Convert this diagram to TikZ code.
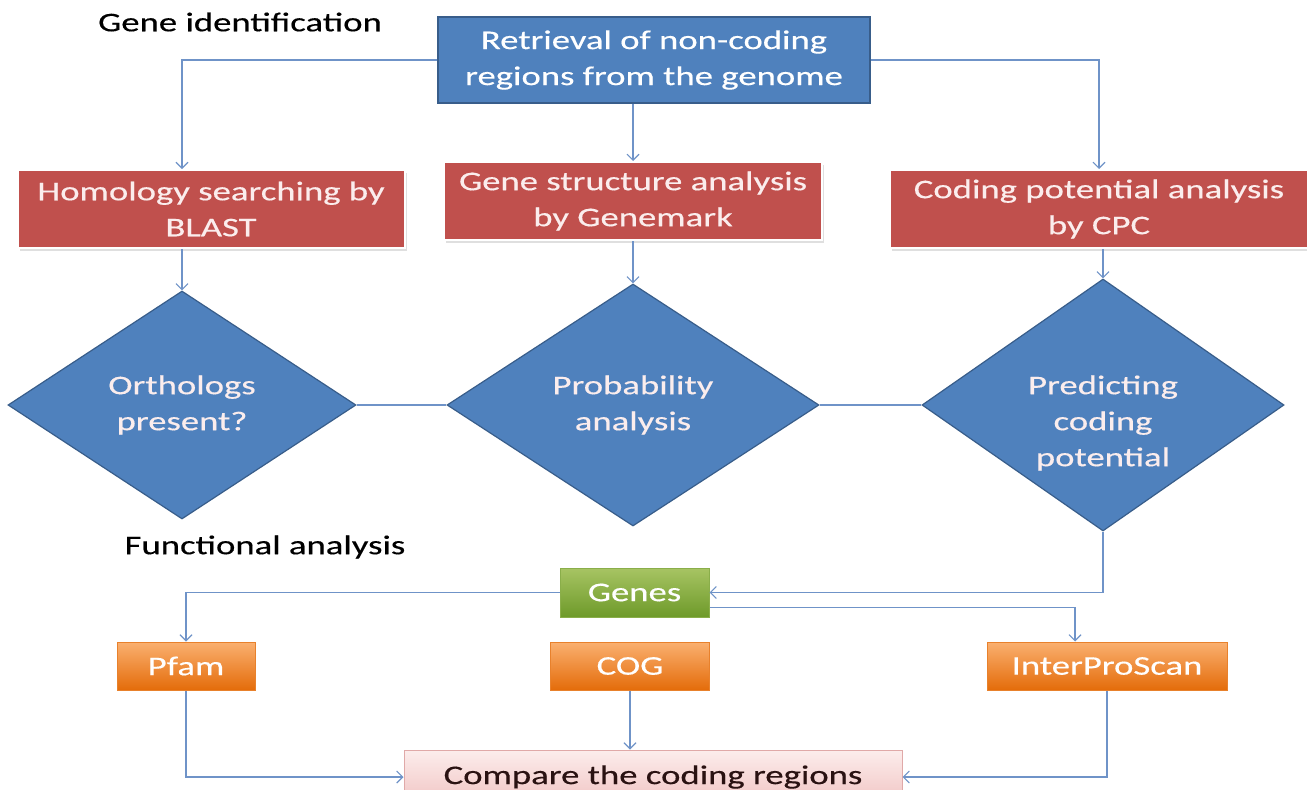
\documentclass[tikz,border=0pt]{standalone}
\usepackage{fontspec}
\setmainfont[FakeStretch=1.36,FakeBold=0.4]{Carlito}
\usetikzlibrary{shapes.geometric,arrows.meta,calc,shadows}
\definecolor{lineblue}{HTML}{6F93C8}
\definecolor{boxblue}{HTML}{4F81BD}
\definecolor{boxblueb}{HTML}{385D8A}
\definecolor{boxred}{HTML}{C0504D}
\definecolor{txtpink}{HTML}{FBEDED}
\definecolor{gtop}{HTML}{A7C463}
\definecolor{gbot}{HTML}{6E9A2A}
\definecolor{gdraw}{HTML}{8AAE4A}
\definecolor{otop}{HTML}{FAB070}
\definecolor{obot}{HTML}{E46C0A}
\definecolor{odraw}{HTML}{E8812C}
\definecolor{ptop}{HTML}{FCEDEC}
\definecolor{pbot}{HTML}{F1C4C3}
\definecolor{pdraw}{HTML}{E0A9A8}
\definecolor{ptext}{HTML}{2A1212}
\begin{document}
\begin{tikzpicture}[x=1pt,y=-1pt,
  every node/.style={font=\fontsize{27}{36}\selectfont, inner sep=0pt},
  conn/.style={draw=lineblue, line width=1.3pt, -{Straight Barb[length=6pt,width=12pt,line width=1.1pt]}},
  plain/.style={draw=lineblue, line width=1.3pt},
  bluebox/.style={fill=boxblue, draw=boxblueb, line width=1.5pt, text=white, align=center},
  redbox/.style={fill=boxred, draw=white, line width=2pt, text=txtpink, align=center,
     drop shadow={shadow xshift=2pt, shadow yshift=-3pt, opacity=0.25, fill=gray}},
  dia/.style={diamond, fill=boxblue, draw=boxblueb, line width=1.2pt},
  dtext/.style={text=txtpink, align=center},
  greenbox/.style={top color=gtop, bottom color=gbot, draw=gdraw, line width=1pt, text=white},
  orangebox/.style={top color=otop, bottom color=obot, draw=odraw, line width=1pt, text=white},
  pinkbox/.style={top color=ptop, bottom color=pbot, draw=pdraw, line width=1pt, text=ptext},
  heading/.style={text=black}
]
\useasboundingbox (0,0) rectangle (1307,790);
\fill[white] (0,0) rectangle (1307,790);

% headings
\node[heading] (h1) at (240,22) {Gene identification};
\node[heading] (h2) at (265,547) {Functional analysis};

% top box
\node[bluebox, minimum width=432, minimum height=86] (top) at (654,60)
  {Retrieval of non-coding\\regions from the genome};

% red boxes
\node[redbox, minimum width=387, minimum height=78] (hom) at (211,209)
  {Homology searching by\\BLAST};
\node[redbox, minimum width=378, minimum height=78] (gs) at (633,201)
  {Gene structure analysis\\by Genemark};
\node[redbox, minimum width=418, minimum height=78] (cpc) at (1099,209)
  {Coding potential analysis\\by CPC};

% diamonds
\node[dia, minimum width=348, minimum height=228] (d1) at (182,405) {};
\node[dia, minimum width=372, minimum height=242] (d2) at (633,405) {};
\node[dia, minimum width=362, minimum height=252] (d3) at (1103,405) {};
\node[dtext] (d1t) at (182,405) {Orthologs\\present?};
\node[dtext] (d2t) at (633,405) {Probability\\analysis};
\node[dtext] (d3t) at (1103,423) {Predicting\\coding\\potential};

% functional boxes
\node[greenbox, minimum width=149, minimum height=49] (genes) at (634.5,592.5) {Genes};
\node[orangebox, minimum width=138, minimum height=48] (pfam) at (186,666) {Pfam};
\node[orangebox, minimum width=159, minimum height=48] (cog) at (630,666) {COG};
\node[orangebox, minimum width=240, minimum height=48] (ips) at (1107,666) {InterProScan};
\node[pinkbox, minimum width=498, minimum height=54] (cmp) at (653,777) {Compare the coding regions};

% connectors
\draw[conn] (top.west) -| (d1.north |- hom.north);
\draw[conn] (top.east) -| (cpc.north);
\draw[conn] (gs.north |- top.south) -- (gs.north);
\draw[conn] (d1.north |- hom.south) -- (d1.north);
\draw[conn] (gs.south) -- (d2.north);
\draw[conn] (d3.north |- cpc.south) -- (d3.north);
\draw[plain] (d1.east) -- (d2.west);
\draw[plain] (d2.east) -- (d3.west);
\draw[conn] (d3.south) |- (genes.east);
\draw[conn] (genes.west) -| (pfam.north);
\draw[conn] ($(genes.east)+(0,15)$) -| ($(ips.north)+(-32,0)$);
\draw[conn] (cog.south) -- (cmp.north -| cog.south);
\draw[conn] (pfam.south) |- (cmp.west);
\draw[conn] (ips.south) |- (cmp.east);
\end{tikzpicture}
\end{document}
